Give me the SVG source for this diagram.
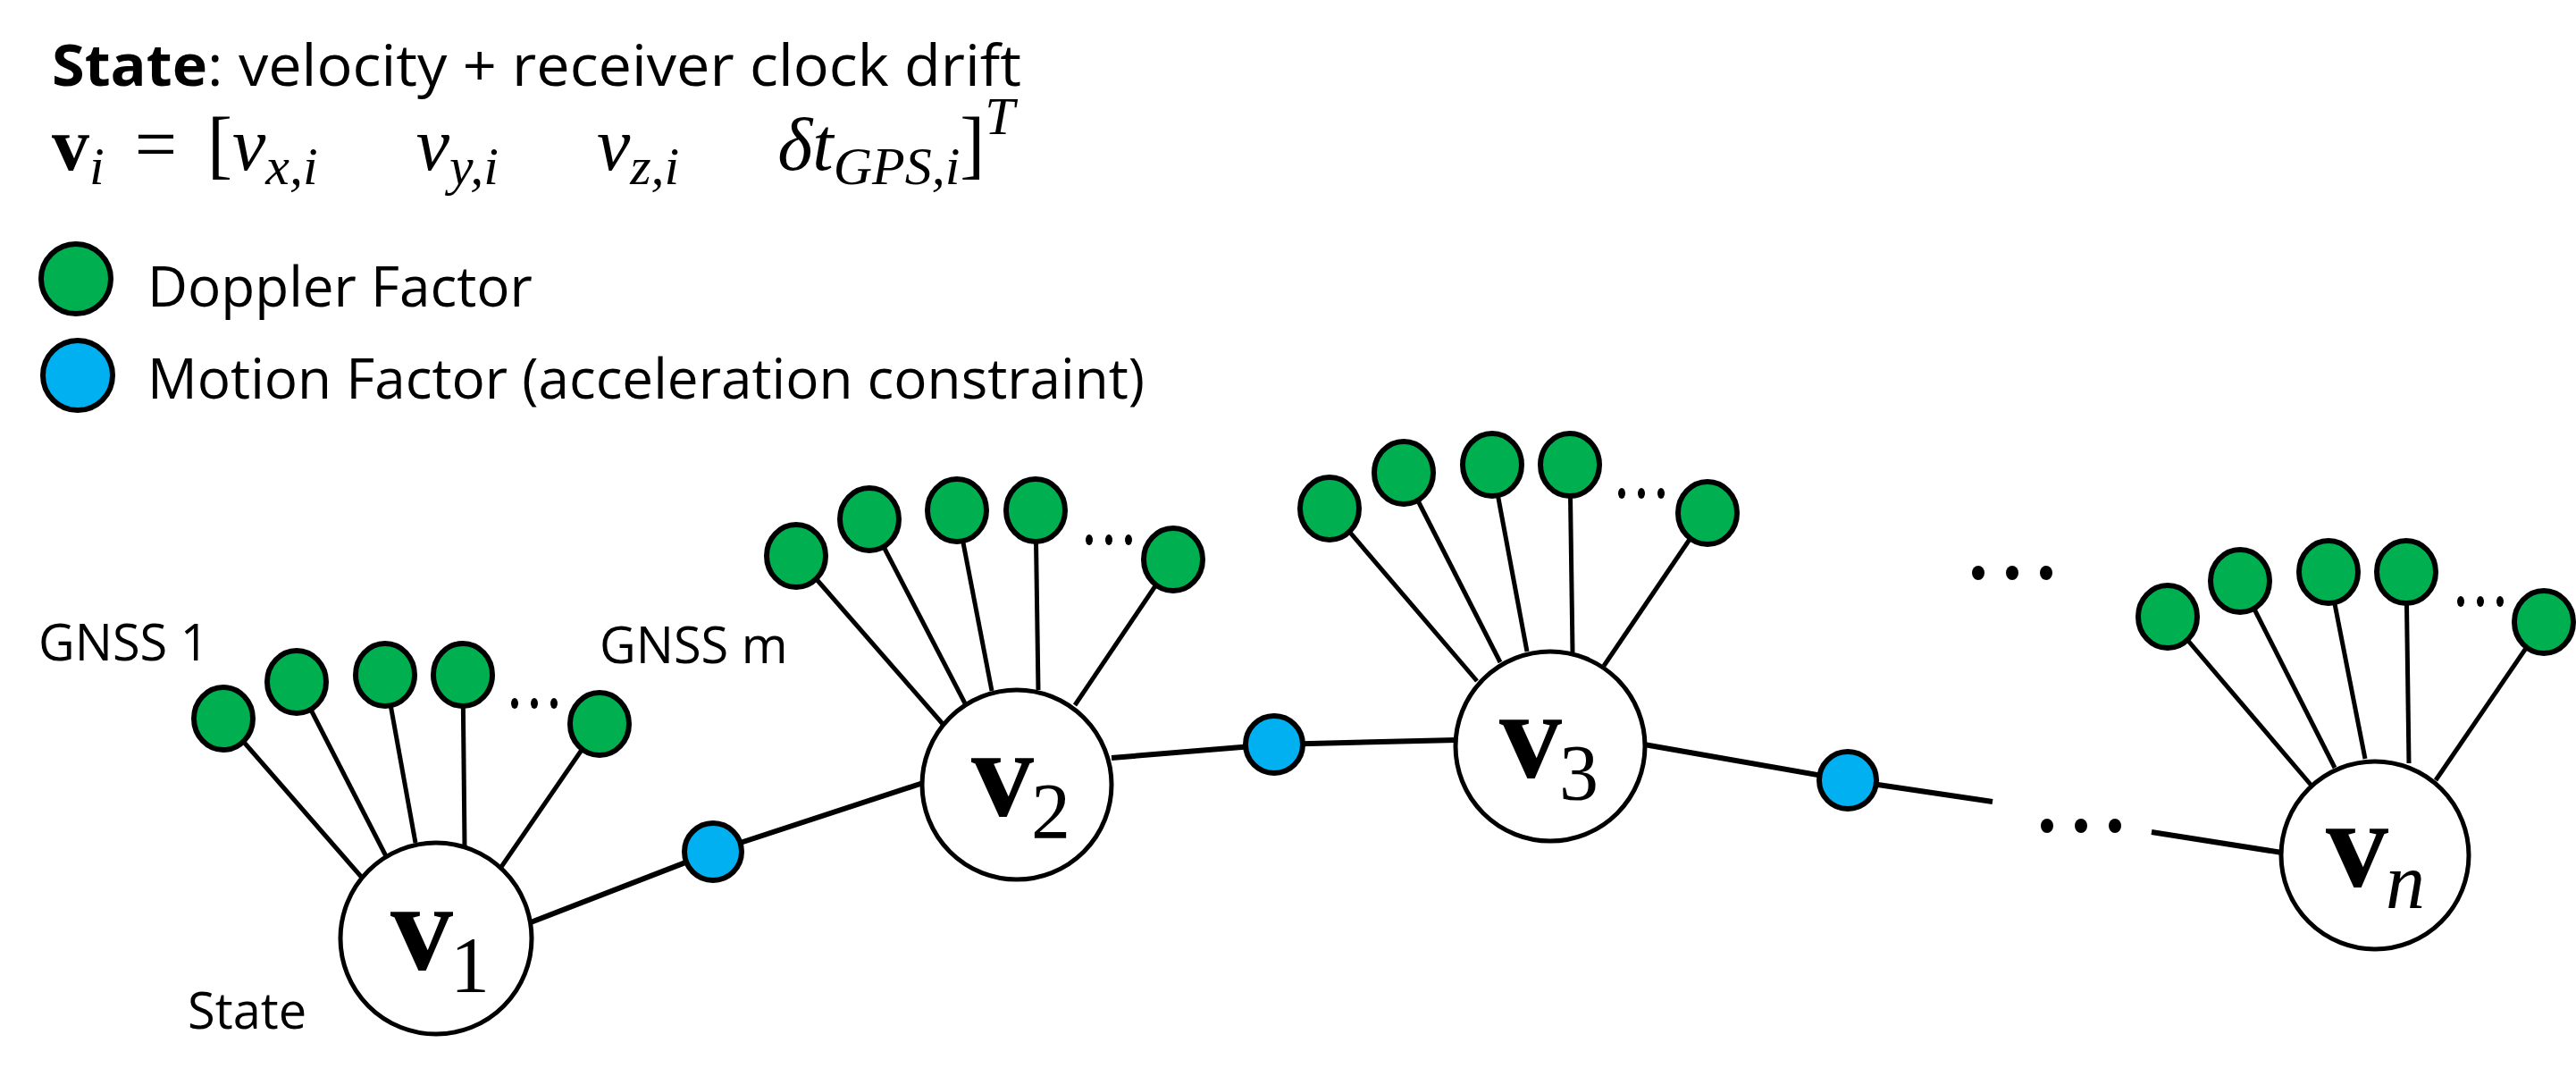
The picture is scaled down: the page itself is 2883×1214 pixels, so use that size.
<svg xmlns="http://www.w3.org/2000/svg" width="2883" height="1214" viewBox="0 0 2883 1214">
<style>
.t{font-family:"Open Sans","Lato","Liberation Sans",sans-serif;fill:#000}
.m{font-family:"Liberation Serif","DejaVu Serif",serif;fill:#000}
.g{fill:#00b050;stroke:#000;stroke-width:6}
.b{fill:#00b0f0;stroke:#000;stroke-width:6}
.s{fill:#fff;stroke:#000;stroke-width:5}
.l{stroke:#000;stroke-width:5;fill:none}
.e{stroke:#000;stroke-width:6;fill:none}
.dot{fill:#000}
</style>
<rect width="2883" height="1214" fill="#fff"/>
<g id="header">
<text class="t" x="58" y="96" font-size="64" textLength="1085" lengthAdjust="spacingAndGlyphs"><tspan font-weight="bold">State</tspan>: velocity + receiver clock drift</text>
<text class="m" x="58" y="190" font-size="84"><tspan font-weight="bold">v</tspan><tspan font-style="italic" font-size="60" dy="16">i</tspan><tspan dy="-16" dx="34">=</tspan><tspan dx="34">[</tspan><tspan font-style="italic">v</tspan><tspan font-style="italic" font-size="60" dy="16">x,i</tspan><tspan dy="-16" dx="110" font-style="italic">v</tspan><tspan font-style="italic" font-size="60" dy="16">y,i</tspan><tspan dy="-16" dx="110" font-style="italic">v</tspan><tspan font-style="italic" font-size="60" dy="16">z,i</tspan><tspan dy="-16" dx="110" font-style="italic">δt</tspan><tspan font-style="italic" font-size="60" dy="16">GPS,i</tspan><tspan dy="-16">]</tspan><tspan font-style="italic" font-size="60" dy="-40">T</tspan></text>
</g>
<g id="legend">
<circle class="g" cx="85" cy="312" r="39"/>
<text class="t" x="165" y="343" font-size="62">Doppler Factor</text>
<circle class="b" cx="87" cy="420" r="39"/>
<text class="t" x="165" y="446" font-size="62">Motion Factor (acceleration constraint)</text>
</g>
<g id="connectors">
<line class="l" x1="250" y1="804" x2="406" y2="983"/>
<line class="l" x1="332" y1="763" x2="432" y2="958"/>
<line class="l" x1="431" y1="755" x2="465" y2="943"/>
<line class="l" x1="518" y1="755" x2="520" y2="947"/>
<line class="l" x1="671" y1="810" x2="561" y2="970"/>
<line class="l" x1="891" y1="622" x2="1055" y2="810"/>
<line class="l" x1="973" y1="581" x2="1080" y2="787"/>
<line class="l" x1="1071" y1="571" x2="1110" y2="773"/>
<line class="l" x1="1159" y1="571" x2="1162" y2="772"/>
<line class="l" x1="1313" y1="626" x2="1203" y2="789"/>
<line class="l" x1="1488" y1="569" x2="1653" y2="762"/>
<line class="l" x1="1571" y1="529" x2="1679" y2="741"/>
<line class="l" x1="1670" y1="520" x2="1709" y2="729"/>
<line class="l" x1="1757" y1="520" x2="1760" y2="730"/>
<line class="l" x1="1911" y1="574" x2="1795" y2="745"/>
<line class="l" x1="2426" y1="690" x2="2587" y2="879"/>
<line class="l" x1="2507" y1="650" x2="2613" y2="859"/>
<line class="l" x1="2606" y1="640" x2="2647" y2="849"/>
<line class="l" x1="2693" y1="640" x2="2696" y2="854"/>
<line class="l" x1="2847" y1="696" x2="2726" y2="873"/>
<line class="e" x1="594" y1="1032" x2="798" y2="953"/>
<line class="e" x1="798" y1="953" x2="1033" y2="876"/>
<line class="e" x1="1244" y1="848" x2="1426" y2="833"/>
<line class="e" x1="1426" y1="833" x2="1630" y2="828"/>
<line class="e" x1="1840" y1="833" x2="2068" y2="873"/>
<line class="e" x1="2068" y1="873" x2="2230" y2="897"/>
<line class="e" x1="2408" y1="931" x2="2554" y2="954"/>
</g>
<g id="v1">
<circle class="s" cx="488" cy="1050" r="107"/>
<text class="m" x="437" y="1085" font-size="140" font-weight="bold">v</text>
<text class="m" x="504" y="1109" font-size="88">1</text>
</g>
<g id="v2">
<circle class="s" cx="1138" cy="878" r="106"/>
<text class="m" x="1087" y="913" font-size="140" font-weight="bold">v</text>
<text class="m" x="1154" y="937" font-size="88">2</text>
</g>
<g id="v3">
<circle class="s" cx="1735" cy="835" r="106"/>
<text class="m" x="1678" y="870" font-size="140" font-weight="bold">v</text>
<text class="m" x="1745" y="894" font-size="88">3</text>
</g>
<g id="vn">
<circle class="s" cx="2658" cy="957" r="105"/>
<text class="m" x="2603" y="992" font-size="140" font-weight="bold">v</text>
<text class="m" x="2670" y="1016" font-size="88" font-style="italic">n</text>
</g>
<g id="motion-factors">
<circle class="b" cx="798" cy="953" r="32"/>
<circle class="b" cx="1426" cy="833" r="32"/>
<circle class="b" cx="2068" cy="873" r="32"/>
</g>
<g id="doppler-factors">
<ellipse class="g" cx="250" cy="804" rx="33" ry="35"/>
<ellipse class="g" cx="332" cy="763" rx="33" ry="35"/>
<ellipse class="g" cx="431" cy="755" rx="33" ry="35"/>
<ellipse class="g" cx="518" cy="755" rx="33" ry="35"/>
<ellipse class="g" cx="671" cy="810" rx="33" ry="35"/>
<ellipse class="g" cx="891" cy="622" rx="33" ry="35"/>
<ellipse class="g" cx="973" cy="581" rx="33" ry="35"/>
<ellipse class="g" cx="1071" cy="571" rx="33" ry="35"/>
<ellipse class="g" cx="1159" cy="571" rx="33" ry="35"/>
<ellipse class="g" cx="1313" cy="626" rx="33" ry="35"/>
<ellipse class="g" cx="1488" cy="569" rx="33" ry="35"/>
<ellipse class="g" cx="1571" cy="529" rx="33" ry="35"/>
<ellipse class="g" cx="1670" cy="520" rx="33" ry="35"/>
<ellipse class="g" cx="1757" cy="520" rx="33" ry="35"/>
<ellipse class="g" cx="1911" cy="574" rx="33" ry="35"/>
<ellipse class="g" cx="2426" cy="690" rx="33" ry="35"/>
<ellipse class="g" cx="2507" cy="650" rx="33" ry="35"/>
<ellipse class="g" cx="2606" cy="640" rx="33" ry="35"/>
<ellipse class="g" cx="2693" cy="640" rx="33" ry="35"/>
<ellipse class="g" cx="2847" cy="696" rx="33" ry="35"/>
</g>
<g id="ellipses">
<g class="dot">
<ellipse cx="576" cy="787" rx="4" ry="6"/><ellipse cx="598" cy="787" rx="4" ry="6"/><ellipse cx="620" cy="787" rx="4" ry="6"/>
<ellipse cx="1219" cy="604" rx="4" ry="6"/><ellipse cx="1241" cy="604" rx="4" ry="6"/><ellipse cx="1263" cy="604" rx="4" ry="6"/>
<ellipse cx="1815" cy="552" rx="4" ry="6"/><ellipse cx="1837" cy="552" rx="4" ry="6"/><ellipse cx="1859" cy="552" rx="4" ry="6"/>
<ellipse cx="2754" cy="673" rx="4" ry="6"/><ellipse cx="2776" cy="673" rx="4" ry="6"/><ellipse cx="2798" cy="673" rx="4" ry="6"/>
<ellipse cx="2214" cy="641" rx="7" ry="8"/><ellipse cx="2252" cy="641" rx="7" ry="8"/><ellipse cx="2290" cy="641" rx="7" ry="8"/>
<ellipse cx="2291" cy="924" rx="7" ry="8"/><ellipse cx="2329" cy="924" rx="7" ry="8"/><ellipse cx="2367" cy="924" rx="7" ry="8"/>
</g>
</g>
<g id="labels">
<text class="t" x="43" y="739" font-size="56">GNSS 1</text>
<text class="t" x="671" y="742" font-size="56">GNSS m</text>
<text class="t" x="210" y="1151" font-size="56">State</text>
</g>
</svg>
